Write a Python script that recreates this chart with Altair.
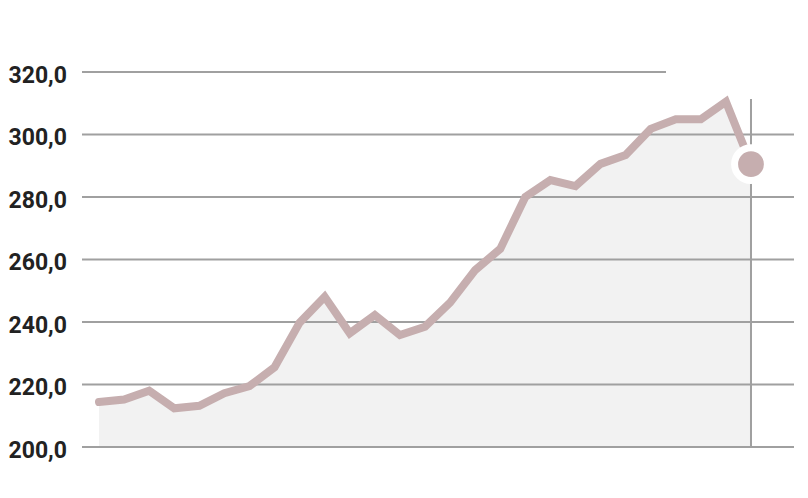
import altair as alt
import pandas as pd

# data
values = [214.4, 215.2, 218.0, 212.4, 213.2, 217.2, 219.5, 225.5, 239.8, 248.1,
          236.4, 242.2, 235.8, 238.5, 246.2, 256.6, 263.4, 280.0, 285.4, 283.5,
          290.6, 293.4, 301.8, 304.9, 304.9, 310.5, 290.5]
tick_values = [200, 220, 240, 260, 280, 300, 320]

df = pd.DataFrame({"i": list(range(len(values))), "v": values})
last = df.tail(1)
grid_full = pd.DataFrame({"t": tick_values[:-1]})
grid_top = pd.DataFrame({"t": tick_values[-1:]})

W, H = 712, 375
LINE = "#c6aeaf"
GRID = "#a0a0a0"

xs = alt.Scale(domain=[-0.678, 27.715], nice=False, zero=False)
ys = alt.Scale(domain=[200, 320], nice=False, zero=False)

yaxis = alt.Axis(values=tick_values, grid=False, domain=False, ticks=False,
                 labelExpr="replace(format(datum.value, '.1f'), '.', ',')",
                 labelAlign="left", labelPadding=74, labelBaseline="middle",
                 labelOffset=3, labelFont="Roboto", labelFontSize=23,
                 labelFontWeight="bold", labelColor="#222222", title=None)

area = alt.Chart(df).mark_area(color="#f2f2f2").encode(
    x=alt.X("i:Q", scale=xs, axis=None),
    y=alt.Y("v:Q", scale=ys, axis=yaxis),
    y2=alt.datum(200),
)

g1 = alt.Chart(grid_full).mark_rule(color=GRID, strokeWidth=2).encode(
    y=alt.Y("t:Q", scale=ys), x=alt.value(0), x2=alt.value(W))
g2 = alt.Chart(grid_top).mark_rule(color=GRID, strokeWidth=2).encode(
    y=alt.Y("t:Q", scale=ys), x=alt.value(0), x2=alt.value(584))

line = alt.Chart(df).mark_line(color=LINE, strokeWidth=8, strokeCap="round",
                               strokeJoin="miter").encode(
    x=alt.X("i:Q", scale=xs), y=alt.Y("v:Q", scale=ys))

vrule = alt.Chart(last).mark_rule(color=GRID, strokeWidth=2).encode(
    x=alt.X("i:Q", scale=xs), y=alt.value(27), y2=alt.value(H))

dot = alt.Chart(last).mark_point(filled=True, shape="circle", size=1075,
                                 fill=LINE, stroke="white", strokeWidth=7,
                                 opacity=1, fillOpacity=1, strokeOpacity=1).encode(
    x=alt.X("i:Q", scale=xs), y=alt.Y("v:Q", scale=ys))

chart = alt.layer(area, g1, g2, line, vrule, dot).properties(
    width=W, height=H,
    autosize=alt.AutoSizeParams(type="none"),
    padding={"left": 74, "top": 64, "right": 6, "bottom": 30},
).configure_view(stroke=None)

chart.save("out.html", embed_options={"renderer": "svg", "actions": False})
